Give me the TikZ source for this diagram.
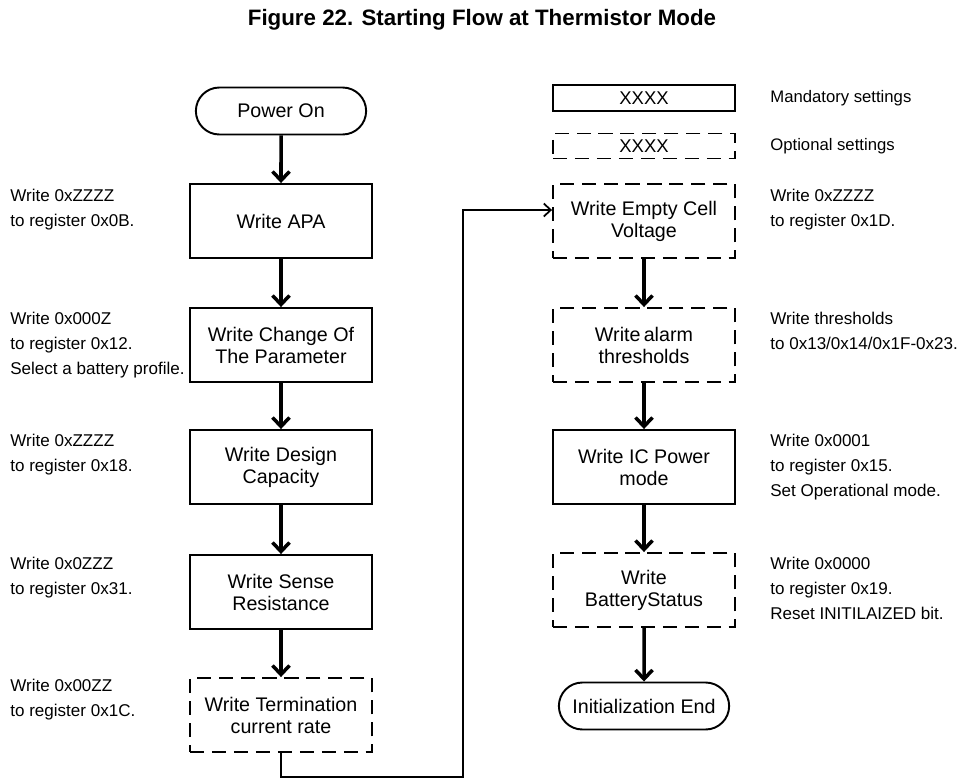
\documentclass[tikz,border=0pt]{standalone}
\usepackage{fontspec}
\setmainfont{Liberation Sans}
\usetikzlibrary{arrows.meta,shapes.misc,calc}

\tikzset{
  mandbox/.style={draw, line width=1.1pt, minimum width=3.64cm, minimum height=1.48cm, align=center, font=\fontsize{11.2}{12.5}\selectfont},
  optbox/.style={mandbox, dash pattern=on 8pt off 4.5pt},
  termbox/.style={draw, line width=1.1pt, rounded rectangle, minimum width=3.64cm, minimum height=0.94cm, font=\fontsize{11.2}{12.5}\selectfont},
  flow/.style={line width=2pt, -{Straight Barb[length=1.8mm,width=3.4mm]}},
  link/.style={line width=1pt, -{Straight Barb[length=1.4mm,width=2.6mm]}},
  note/.style={anchor=north west, align=left, inner sep=0pt, font=\fontsize{9.7}{14.2}\selectfont}
}

\begin{document}
\begin{tikzpicture}[x=0.02cm, y=-0.02cm]
	\useasboundingbox (0,0) rectangle (964,778);
	\node[font=\bfseries\fontsize{12.7}{14}\selectfont] (title) at (482,20) {Figure 22. Starting Flow at Thermistor Mode};

	% legend
	\node[mandbox, minimum height=0.52cm, font=\fontsize{10.5}{11}\selectfont] (legm) at (644,98) {XXXX};
	\node[optbox, minimum height=0.5cm, font=\fontsize{10.5}{11}\selectfont] (lego) at (644,146) {XXXX};
	\node[anchor=west, inner sep=0pt, font=\fontsize{9.5}{11}\selectfont] (legmt) at (770,98) {Mandatory settings};
	\node[anchor=west, inner sep=0pt, font=\fontsize{9.5}{11}\selectfont] (legot) at (770,146) {Optional settings};

	% left column
	\node[termbox] (pwr) at (281,111) {Power On};
	\node[mandbox] (apa) at (281,221) {Write APA};
	\node[mandbox] (chg) at (281,345) {Write Change Of\\The Parameter};
	\node[mandbox] (cap) at (281,467) {Write Design\\Capacity};
	\node[mandbox] (sns) at (281,592) {Write Sense\\Resistance};
	\node[optbox] (trm) at (281,715) {Write Termination\\current rate};

	% right column
	\node[optbox] (empty) at (644,221) {Write Empty Cell\\Voltage};
	\node[optbox] (alrm) at (644,345) {Write\,alarm\\thresholds};
	\node[mandbox] (pwrm) at (644,467) {Write IC Power\\mode};
	\node[optbox] (bat) at (644,590) {Write\\BatteryStatus};
	\node[termbox] (fin) at (644,706) {Initialization End};

	\draw[flow] (pwr) -- (apa);
	\draw[flow] (apa) -- (chg);
	\draw[flow] (chg) -- (cap);
	\draw[flow] (cap) -- (sns);
	\draw[flow] (sns) -- (trm);
	\coordinate (turn) at (463,777);
	\draw[link] (trm.south) |- (turn) |- ([yshift=0.22cm]empty.west);
	\draw[flow] (empty) -- (alrm);
	\draw[flow] (alrm) -- (pwrm);
	\draw[flow] (pwrm) -- (bat);
	\draw[flow] (bat) -- (fin);

	% notes
	\node[note] (napa) at (10,189) {Write 0xZZZZ\\to register 0x0B.};
	\node[note] (nchg) at (10,312) {Write 0x000Z\\to register 0x12.\\Select a battery profile.};
	\node[note] (ncap) at (10,434) {Write 0xZZZZ\\to register 0x18.};
	\node[note] (nsns) at (10,557) {Write 0x0ZZZ\\to register 0x31.};
	\node[note] (ntrm) at (10,679) {Write 0x00ZZ\\to register 0x1C.};
	\node[note] (nempty) at (770,189) {Write 0xZZZZ\\to register 0x1D.};
	\node[note] (nalrm) at (770,312) {Write thresholds\\to 0x13/0x14/0x1F-0x23.};
	\node[note] (npwrm) at (770,434) {Write 0x0001\\to register 0x15.\\Set Operational mode.};
	\node[note] (nbat) at (770,557) {Write 0x0000\\to register 0x19.\\Reset INITILAIZED bit.};
\end{tikzpicture}
\end{document}
